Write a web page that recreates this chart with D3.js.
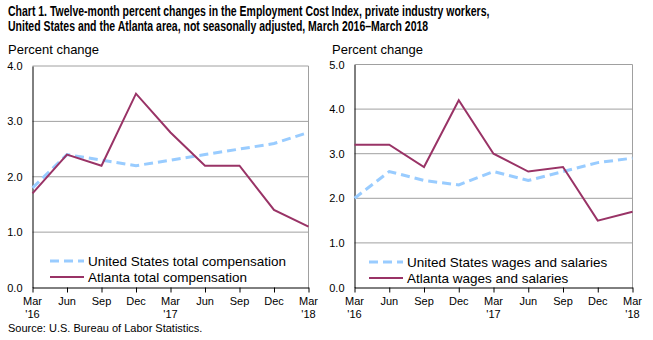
<!DOCTYPE html>
<html>
<head>
<meta charset="utf-8">
<script src="https://cdn.jsdelivr.net/npm/d3@7"></script>
<style>
  body { margin: 0; background: #fff; }
  svg { display: block; font-family: "Liberation Sans", Arial, sans-serif; }
  .title { font-family: "Liberation Sans Narrow", "Arial Narrow", "Liberation Sans", sans-serif; font-weight: bold; font-size: 14.5px; }
</style>
</head>
<body>
<svg width="653" height="340"></svg>
<script>
var quarters = ["Mar", "Jun", "Sep", "Dec", "Mar", "Jun", "Sep", "Dec", "Mar"];
var years = ["'16", "", "", "", "'17", "", "", "", "'18"];

var usTotal = [1.8, 2.4, 2.3, 2.2, 2.3, 2.4, 2.5, 2.6, 2.8];
var atlTotal = [1.7, 2.4, 2.2, 3.5, 2.8, 2.2, 2.2, 1.4, 1.1];
var usWages = [2.0, 2.6, 2.4, 2.3, 2.6, 2.4, 2.6, 2.8, 2.9];
var atlWages = [3.2, 3.2, 2.7, 4.2, 3.0, 2.6, 2.7, 1.5, 1.7];

var leftTicks = [0, 1, 2, 3, 4];
var rightTicks = [0, 1, 2, 3, 4, 5];

var titleLines = [
  "Chart 1. Twelve-month percent changes in the Employment Cost Index, private industry workers,",
  "United States and the Atlanta area, not seasonally adjusted, March 2016\u2013March 2018"
];

var svg = d3.select("svg");

// no narrow font here, so squeeze the bold title horizontally
var titleG = svg.append("g").attr("transform", "translate(8,16)");
var tt = titleG.append("text").attr("class", "title");
tt.append("tspan").attr("x", 0).attr("y", 0).text(titleLines[0]);
tt.append("tspan").attr("x", 0).attr("y", 15).text(titleLines[1]);
var w0 = tt.select("tspan").node().getComputedTextLength();
titleG.attr("transform", "translate(8,16) scale(" + (482 / w0) + ",1)");

svg.append("text")
  .attr("x", 8)
  .attr("y", 332)
  .style("font-size", "11px")
  .text("Source: U.S. Bureau of Labor Statistics.");

function drawPanel(opt) {
  var g = svg.append("g");

  var x = d3.scalePoint()
    .domain(d3.range(quarters.length))
    .range([opt.left, opt.right]);

  var y = d3.scaleLinear()
    .domain([0, d3.max(opt.ticks)])
    .range([opt.bottom, opt.top]);

  // grid
  g.selectAll(".grid")
    .data(opt.ticks.slice(1))
    .enter().append("line")
    .attr("x1", opt.left)
    .attr("x2", opt.right)
    .attr("y1", function(d) { return y(d); })
    .attr("y2", function(d) { return y(d); })
    .style("stroke", "#a0a0a0")
    .style("stroke-width", 1);

  g.append("line")
    .attr("x1", opt.right).attr("x2", opt.right)
    .attr("y1", opt.top).attr("y2", opt.bottom)
    .style("stroke", "#a0a0a0");

  // y axis
  var yAxis = g.append("g")
    .attr("transform", "translate(" + opt.left + ",0)")
    .call(d3.axisLeft(y).tickValues(opt.ticks).tickSize(0).tickPadding(10).tickFormat(d3.format(".1f")));
  yAxis.select(".domain").style("stroke", "#000");
  yAxis.selectAll("text").style("font-size", "11px").style("font-family", "Liberation Sans, Arial, sans-serif").attr("fill", "#000");

  // x axis
  var xAxis = g.append("g")
    .attr("transform", "translate(0," + opt.bottom + ")")
    .call(d3.axisBottom(x).tickSize(5).tickSizeOuter(0).tickFormat(""));
  xAxis.select(".domain").style("stroke", "#000");
  xAxis.selectAll("line").style("stroke", "#000");

  var lab = g.selectAll(".xlab")
    .data(d3.range(quarters.length))
    .enter().append("text")
    .attr("text-anchor", "middle")
    .style("font-size", "11px");
  lab.append("tspan")
    .attr("x", function(d) { return x(d); })
    .attr("y", opt.bottom + 17)
    .text(function(d) { return quarters[d]; });
  lab.append("tspan")
    .attr("x", function(d) { return x(d); })
    .attr("y", opt.bottom + 30)
    .text(function(d) { return years[d]; });

  // axis title
  g.append("text")
    .attr("x", opt.labelX)
    .attr("y", 54)
    .style("font-size", "13px")
    .text("Percent change");

  var line = d3.line()
    .x(function(d, i) { return x(i); })
    .y(function(d) { return y(d); });

  g.append("path")
    .datum(opt.us)
    .attr("d", line)
    .style("fill", "none")
    .style("stroke", "#99ccff")
    .style("stroke-width", 3)
    .style("stroke-dasharray", "9,5");

  g.append("path")
    .datum(opt.atl)
    .attr("d", line)
    .style("fill", "none")
    .style("stroke", "#993366")
    .style("stroke-width", 2);

  // legend
  var legend = [
    { name: opt.usName, color: "#99ccff", width: 3, dash: "9,5" },
    { name: opt.atlName, color: "#993366", width: 2, dash: null }
  ];
  var lg = g.selectAll(".legend")
    .data(legend)
    .enter().append("g")
    .attr("transform", function(d, i) {
      return "translate(" + opt.legX + "," + (opt.legY + i * 16) + ")";
    });
  lg.append("line")
    .attr("x1", 0).attr("x2", 34)
    .attr("y1", 0).attr("y2", 0)
    .style("stroke", function(d) { return d.color; })
    .style("stroke-width", function(d) { return d.width; })
    .style("stroke-dasharray", function(d) { return d.dash; });
  lg.append("text")
    .attr("x", 38)
    .attr("y", 5)
    .style("font-size", "13.5px")
    .text(function(d) { return d.name; });
}

drawPanel({
  left: 32.5, right: 308.5, top: 66, bottom: 287.5,
  ticks: leftTicks, us: usTotal, atl: atlTotal,
  labelX: 8, legX: 50, legY: 261,
  usName: "United States total compensation",
  atlName: "Atlanta total compensation"
});

drawPanel({
  left: 354.5, right: 632.5, top: 64.5, bottom: 287.5,
  ticks: rightTicks, us: usWages, atl: atlWages,
  labelX: 332, legX: 369, legY: 262,
  usName: "United States wages and salaries",
  atlName: "Atlanta wages and salaries"
});
</script>
</body>
</html>
